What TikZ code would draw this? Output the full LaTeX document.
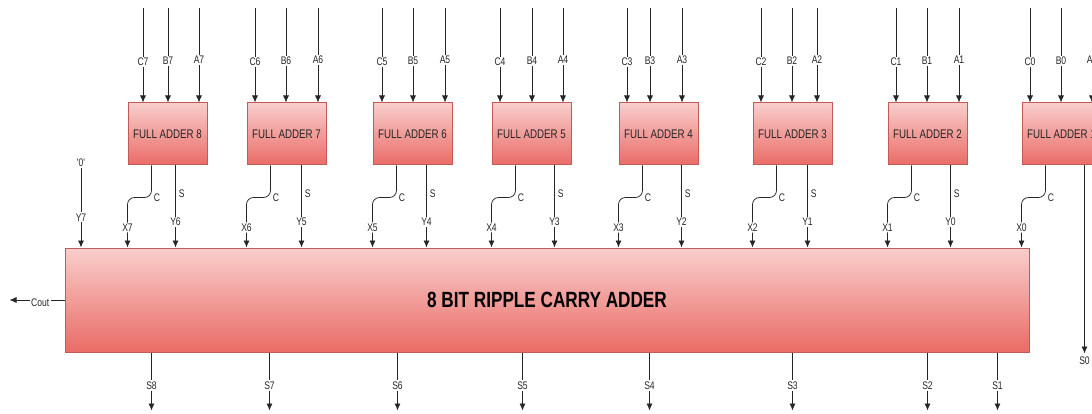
\documentclass[tikz,border=0pt]{standalone}
\usepackage{fontspec}
\newfontfamily\narrow{Liberation Sans}[FakeStretch=0.78]
\usetikzlibrary{arrows.meta}

\definecolor{faTop}{HTML}{F8CECC}
\definecolor{faBot}{HTML}{EA6B66}
\definecolor{faLine}{HTML}{C45A56}
\definecolor{wireCol}{HTML}{262626}

\tikzset{
    adder/.style={draw=faLine, line width=1pt, top color=faTop, bottom color=faBot,
        inner sep=0pt, text=black!85, font=\narrow\fontsize{12.5}{14}\selectfont},
    wire/.style={draw=wireCol, line width=0.75pt},
    lbl/.style={fill=white, inner sep=1.2pt, text=black!85, font=\narrow\fontsize{11}{12}\selectfont},
    tag/.style={inner sep=1pt, text=black!85, font=\narrow\fontsize{11}{12}\selectfont}
}

\begin{document}
\begin{tikzpicture}[>={Latex[length=7pt,width=6pt]}, x=1pt, y=-1pt]
    \useasboundingbox (0,0) rectangle (1092,414);
    \clip (0,0) rectangle (1092,414);

    % Khoi cong 8 bit
    \node[adder, minimum width=964pt, minimum height=104pt, text=black,
        font=\narrow\bfseries\fontsize{22}{24}\selectfont] (rca) at (547,300) {8 BIT RIPPLE CARRY ADDER};

    % Cac bo cong day du
    \foreach \lx/\n/\k/\cx/\bx/\ax/\sx in {128/8/7/15/40/71/48, 247/7/6/8/39/71/55,
        373/6/5/9/40/72/54, 492/5/4/8/40/71/63, 619/4/3/8/31/63/63,
        753/3/2/8/39/64/55, 888/2/1/8/39/71/63, 1022/1/0/8/39/70/63}{
        \node[adder, minimum width=79pt, minimum height=62pt] (fa\n) at (\lx+39.5,134) {FULL ADDER \n};
        % ngo vao
        \coordinate (c\k) at (\lx+\cx,8);
        \coordinate (b\k) at (\lx+\bx,8);
        \coordinate (a\k) at (\lx+\ax,8);
        \draw[wire,->] (c\k) -- (c\k |- fa\n.north) node[lbl,pos=0.57] (lc\k) {C\k};
        \draw[wire,->] (b\k) -- (b\k |- fa\n.north) node[lbl,pos=0.56] (lb\k) {B\k};
        \draw[wire,->] (a\k) -- (a\k |- fa\n.north) node[lbl,pos=0.55] (la\k) {A\k};
        % ngo ra nho
        \coordinate (co\n) at ([xshift=24pt]fa\n.south west);
        \draw[wire,->,rounded corners=7pt] (co\n) -- ++(0,32) node[tag,pos=1,right=1pt] (lcc\n) {C}
            -| (fa\n.south west |- rca.north) node[lbl,pos=0.8] (lx\k) {X\k};
        % ngo ra tong
        \coordinate (so\n) at ([xshift=\sx pt]fa\n.south west);
        \ifnum\n>1
            \pgfmathtruncatemacro\y{\k-1}
            \draw[wire,->] (so\n) -- (so\n |- rca.north) node[tag,pos=0.34,right=2pt] (ls\n) {S}
                node[lbl,pos=0.69] (ly\y) {Y\y};
        \else
            \draw[wire,->] (so\n) -- ++(0,188) node[tag,below=2pt] (ls0) {S0};
        \fi
    }

    % Nho vao '0'
    \node[tag] (zero) at (81,163) {'0'};
    \draw[wire,->] (zero) -- (zero |- rca.north) node[lbl,pos=0.62] (ly7) {Y7};

    % Nho ra
    \draw[wire,->] (rca.west) -- ++(-55,0) node[lbl,pos=0.44,yshift=-3pt] (lcout) {Cout};

    % Cac ngo ra tong
    \foreach \sx/\k in {152/8, 270/7, 398/6, 523/5, 650/4, 793/3, 928/2, 998/1}{
        \coordinate (o\k) at ([xshift=\sx pt-65pt]rca.south west);
        \draw[wire,->] (o\k) -- ++(0,58) node[lbl,pos=0.57] (lo\k) {S\k};
    }
\end{tikzpicture}
\end{document}
